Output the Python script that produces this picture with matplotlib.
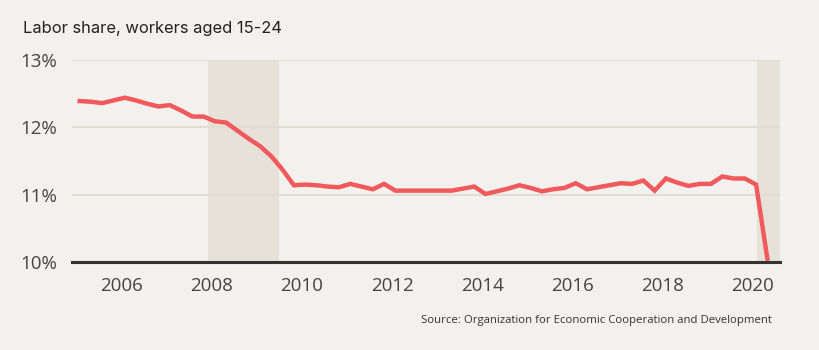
import numpy as np
import matplotlib
matplotlib.use("Agg")
from matplotlib import pyplot as plt

# quarterly labor share (%) for workers aged 15-24, 2005Q1 .. 2020Q2
share = [12.39, 12.38, 12.36, 12.40, 12.44, 12.40, 12.35, 12.31, 12.33, 12.25,
         12.16, 12.16, 12.09, 12.07, 11.95, 11.83, 11.72, 11.57, 11.37, 11.14,
         11.15, 11.14, 11.12, 11.11, 11.16, 11.12, 11.08, 11.16, 11.06, 11.06,
         11.06, 11.06, 11.06, 11.06, 11.09, 11.12, 11.01, 11.05, 11.09, 11.14,
         11.10, 11.05, 11.08, 11.10, 11.17, 11.08, 11.11, 11.14, 11.17, 11.16,
         11.21, 11.06, 11.24, 11.18, 11.13, 11.16, 11.16, 11.27, 11.24, 11.24,
         11.15, 10.05]
start_year = 2005
recessions = [(2007.92, 2009.5), (2020.08, 2020.6)]
xticks = [2006, 2008, 2010, 2012, 2014, 2016, 2018, 2020]
yticks = [10, 11, 12, 13]

bg = '#f3f1ed'
t = start_year + np.arange(len(share)) / 4 + 0.07

fig = plt.figure(figsize=(8.2, 3.5), dpi=100, facecolor=bg)
ax = fig.add_axes([72/820, 1-262/350, 708/820, 202/350], facecolor=bg)

for a, b in recessions:
    ax.axvspan(a, b, color='#e6e2d9', zorder=0, lw=0)
for y in yticks[1:]:
    ax.axhline(y, color='#e2ddd2', lw=1.5, zorder=1)

ax.plot(t, share, color='#f05a5c', lw=3.2, zorder=3, solid_joinstyle='miter')

ax.set_xlim(2004.9, 2020.6)
ax.set_ylim(10, 13)
ax.set_xticks(xticks)
ax.set_xticklabels([str(x) for x in xticks])
ax.set_yticks(yticks)
ax.set_yticklabels([f'{y}%' for y in yticks])
ax.tick_params(length=0, labelsize=13.5, labelcolor='#444444')
ax.tick_params(axis='x', pad=11)
ax.tick_params(axis='y', pad=11)
for lab in ax.get_xticklabels() + ax.get_yticklabels():
    lab.set_family('Open Sans')
for s in ['top', 'right', 'left']:
    ax.spines[s].set_visible(False)
ax.spines['bottom'].set_color('#333333')
ax.spines['bottom'].set_linewidth(2.2)
ax.spines['bottom'].set_zorder(4)

fig.text(23/820, 1-28/350, 'Labor share, workers aged 15-24', fontsize=11.9,
         family='Inter', color='#222222', va='center')
fig.text(772/820, 1-321/350, 'Source: Organization for Economic Cooperation and Development',
         fontsize=8.2, family='Open Sans', color='#333333', ha='right', va='center')

fig.savefig('out.png', dpi=100, facecolor=bg)
